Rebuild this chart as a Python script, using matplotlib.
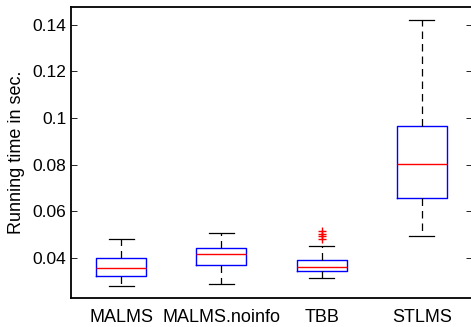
import matplotlib
matplotlib.use("Agg")
import matplotlib.pyplot as plt

plt.rcParams['font.family'] = ['Liberation Sans', 'DejaVu Sans']

categories = ["MALMS", "MALMS.noinfo", "TBB", "STLMS"]
whisker_low = [0.0280, 0.0286, 0.0311, 0.0495]
q1 = [0.0321, 0.0367, 0.0343, 0.0657]
median = [0.0354, 0.0417, 0.0361, 0.0804]
q3 = [0.0400, 0.0443, 0.0391, 0.0967]
whisker_high = [0.0479, 0.0505, 0.0452, 0.1421]
outliers = [[], [], [0.0482, 0.0492, 0.0503, 0.0513], []]

yticks = [0.04, 0.06, 0.08, 0.1, 0.12, 0.14]
ytick_labels = ["0.04", "0.06", "0.08", "0.1", "0.12", "0.14"]

stats = []
for i, name in enumerate(categories):
    stats.append(dict(label=name, whislo=whisker_low[i], q1=q1[i], med=median[i],
                      q3=q3[i], whishi=whisker_high[i], fliers=outliers[i]))

fig = plt.figure(figsize=(4.71, 3.27), dpi=100)
ax = fig.add_axes([71/471, 29/327, 401/471, 291/327])

ax.bxp(stats, positions=[1, 2, 3, 4], widths=0.5, capwidths=0.25,
       boxprops=dict(color='blue', linewidth=1.0),
       medianprops=dict(color='red', linewidth=1.0),
       whiskerprops=dict(color='black', linestyle=(0, (6, 4)), linewidth=0.9),
       capprops=dict(color='black', linewidth=0.9),
       flierprops=dict(marker='+', markeredgecolor='red', markersize=6, markeredgewidth=1.0, linestyle='none'))

ax.set_xlim(0.5, 4.5)
ax.set_ylim(0.0227, 0.1477)
ax.set_yticks(yticks)
ax.set_yticklabels(ytick_labels)
ax.set_xticks([1, 2, 3, 4])
ax.set_xticklabels(categories)
ax.tick_params(axis='y', direction='in', length=4, width=0.6, right=True, labelsize=12.5)
ax.tick_params(axis='x', length=0, labelsize=13, pad=8)
ax.set_ylabel("Running time in sec.", fontsize=13, labelpad=5)
for s in ax.spines.values():
    s.set_linewidth(1.3)

fig.savefig("out.png", dpi=100)
